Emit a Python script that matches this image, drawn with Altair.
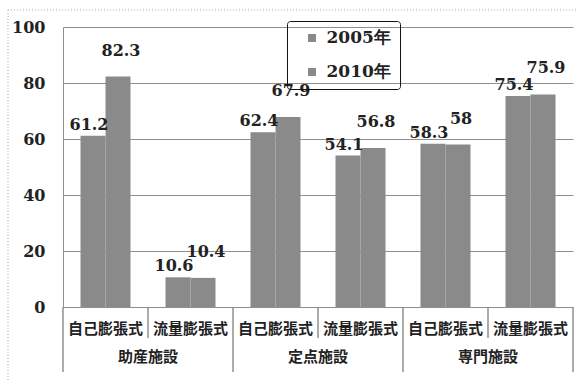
import altair as alt
import pandas as pd

groups = ["助産施設", "定点施設", "専門施設"]
subtypes = ["自己膨張式", "流量膨張式"]
years = ["2005年", "2010年"]
v2005 = [61.2, 10.6, 62.4, 54.1, 58.3, 75.4]
v2010 = [82.3, 10.4, 67.9, 56.8, 58.0, 75.9]

keys = [f"{g}・{s}" for g in groups for s in subtypes]

rows = []
for i, k in enumerate(keys):
    rows.append({"key": k, "year": years[0], "value": v2005[i]})
    rows.append({"key": k, "year": years[1], "value": v2010[i]})
df = pd.DataFrame(rows)

sub_df = pd.DataFrame({"key": keys, "sub": [k.split("・")[1] for k in keys]})
grp_df = pd.DataFrame({"key": keys[1::2], "grp": groups})
grp_start = pd.DataFrame({"key": keys[0::2]})
grp_end = pd.DataFrame({"key": [keys[-1]]})
sub_sep = pd.DataFrame({"key": keys[1::2]})

W, H = 510, 280
GRAY = "#8a8a8a"
LINE = "#8f8f8f"
NUMFONT = "DejaVu Serif"
CJK = "Noto Sans CJK JP"

xscale = alt.Scale(domain=keys, paddingInner=0, paddingOuter=0)
xenc = alt.X("key:N", sort=keys, scale=xscale, axis=None)
xoff = alt.XOffset("year:N", sort=years, scale=alt.Scale(paddingInner=0, paddingOuter=0.7))

bars = alt.Chart(df).mark_bar(color=GRAY).encode(
    x=xenc,
    xOffset=xoff,
    y=alt.Y("value:Q", scale=alt.Scale(domain=[0, 100]),
            axis=alt.Axis(values=[0, 20, 40, 60, 80, 100], title=None, ticks=False,
                          domain=True, domainColor=LINE, gridColor=LINE,
                          labelFont=NUMFONT, labelFontWeight="bold", labelFontSize=16,
                          labelColor="#222", labelPadding=18)),
    color=alt.Color("year:N", sort=years,
                    scale=alt.Scale(domain=years, range=[GRAY, GRAY]),
                    legend=alt.Legend(title=None, orient="none", legendX=224, legendY=-6,
                                      strokeColor="#111", padding=8.5, cornerRadius=3,
                                      symbolType="square", symbolSize=64, symbolStrokeWidth=0,
                                      symbolOffset=8, labelOffset=6,
                                      labelFont=NUMFONT, labelFontWeight="bold",
                                      labelFontSize=17, labelColor="#222",
                                      rowPadding=16)),
)

lab05 = alt.Chart(df).transform_filter(alt.datum.year == years[0]).mark_text(
    font=NUMFONT, fontWeight="bold", fontSize=16, color="#222", baseline="middle", dy=-11, dx=-4
).encode(
    x=xenc,
    xOffset=xoff,
    y="value:Q",
    text=alt.Text("value:Q", format=".3~r"),
)

lab10 = alt.Chart(df).transform_filter(alt.datum.year == years[1]).mark_text(
    font=NUMFONT, fontWeight="bold", fontSize=16, color="#222", baseline="middle", dy=-26, dx=3
).encode(
    x=xenc,
    xOffset=xoff,
    y="value:Q",
    text=alt.Text("value:Q", format=".3~r"),
)

sub_text = alt.Chart(sub_df).mark_text(
    font=CJK, fontWeight="bold", fontSize=15, color="#222", baseline="middle"
).encode(
    x=alt.X("key:N", sort=keys, scale=xscale, axis=None),
    y=alt.value(302),
    text="sub:N",
)

grp_text = alt.Chart(grp_df).mark_text(
    font=CJK, fontWeight="bold", fontSize=15, color="#222", baseline="middle"
).encode(
    x=alt.X("key:N", sort=keys, scale=xscale, axis=None, bandPosition=0),
    y=alt.value(330),
    text="grp:N",
)

sub_rules = alt.Chart(sub_sep).mark_rule(color=LINE, strokeWidth=1.5).encode(
    x=alt.X("key:N", sort=keys, scale=xscale, axis=None, bandPosition=0),
    y=alt.value(H), y2=alt.value(H + 31),
)
grp_rules = alt.Chart(grp_start).mark_rule(color=LINE, strokeWidth=1.5).encode(
    x=alt.X("key:N", sort=keys, scale=xscale, axis=None, bandPosition=0),
    y=alt.value(H), y2=alt.value(H + 65),
)
end_rule = alt.Chart(grp_end).mark_rule(color=LINE, strokeWidth=1.5).encode(
    x=alt.X("key:N", sort=keys, scale=xscale, axis=None, bandPosition=1),
    y=alt.value(H), y2=alt.value(H + 65),
)

frame = alt.Chart(grp_end).mark_rect(
    fill=None, stroke="#aaaaaa", strokeDash=[1, 2], strokeWidth=1
).encode(
    x=alt.value(-55), x2=alt.value(W + 20), y=alt.value(-17), y2=alt.value(H + 80),
)

chart = alt.layer(frame, bars, lab05, lab10, sub_rules, grp_rules, end_rule, sub_text, grp_text).properties(
    width=W, height=H,
    autosize=alt.AutoSizeParams(type="none"),
    padding={"left": 63, "top": 27, "right": 4, "bottom": 75},
    background="white",
).configure_view(stroke=None)

chart.save("out.html", embed_options={"renderer": "svg", "actions": False})
